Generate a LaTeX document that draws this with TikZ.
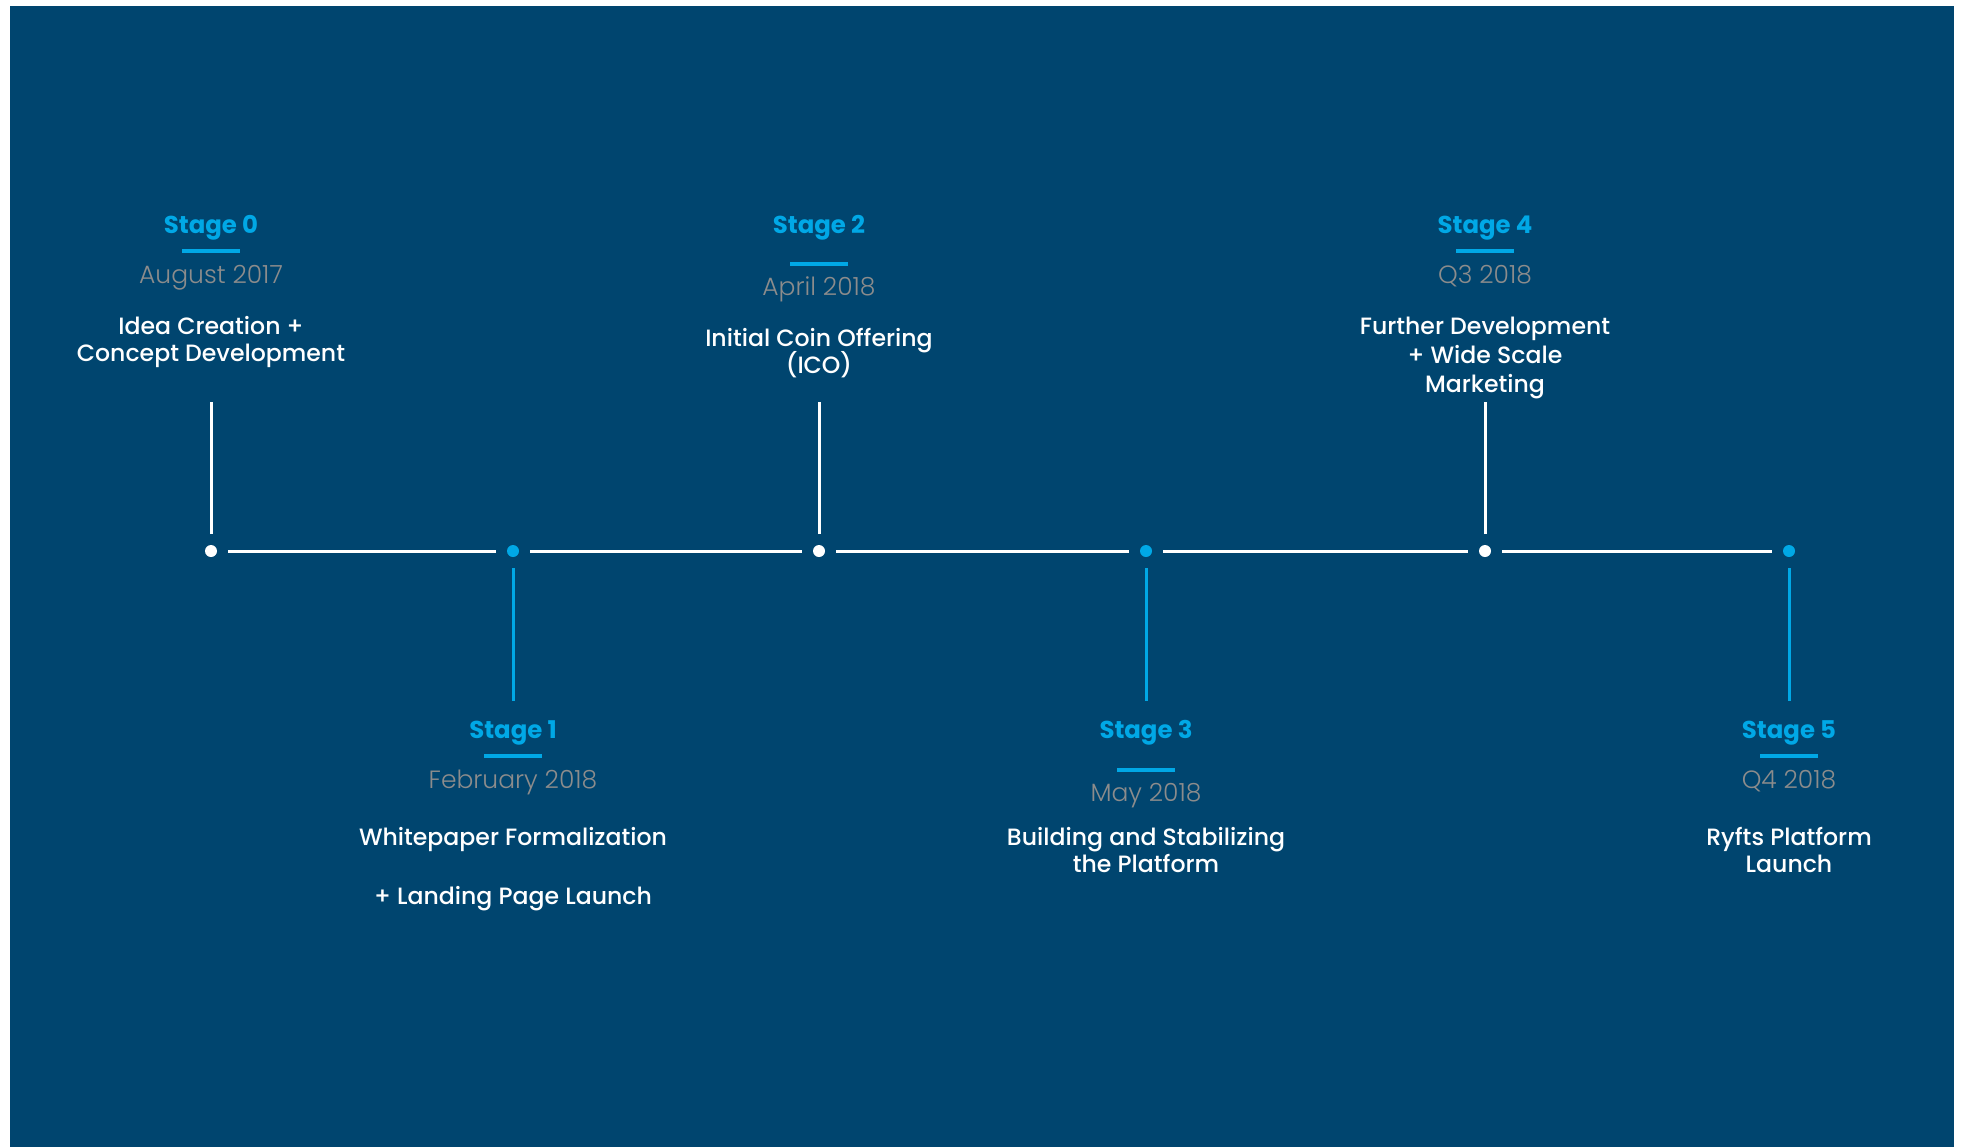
\documentclass[tikz,border=0pt]{standalone}
\usepackage{fontspec}
\setmainfont{Poppins}
\newfontfamily\taskfont{Poppins Medium}
\newfontfamily\datefont{Poppins Light}

\definecolor{navy}{HTML}{00456F}
\definecolor{stagecyan}{HTML}{00A8E6}
\definecolor{dategray}{HTML}{8C8C8C}

\tikzstyle{stage} = [text=stagecyan, font=\bfseries\fontsize{12.2}{14}\selectfont, anchor=base]
\tikzstyle{date} = [text=dategray, font=\datefont\fontsize{12.5}{14}\selectfont, anchor=base]
\tikzstyle{task} = [text=white, font=\taskfont\fontsize{11.8}{13.5}\selectfont, align=center, anchor=base]
\tikzstyle{bar} = [fill=stagecyan, minimum width=29pt, minimum height=1.75pt, inner sep=0pt]
\tikzstyle{wdot} = [circle, fill=white, minimum size=6pt, inner sep=0pt, outer sep=5.5pt]
\tikzstyle{cdot} = [circle, fill=stagecyan, minimum size=6pt, inner sep=0pt, outer sep=5.5pt]
\tikzstyle{wline} = [draw=white, line width=1.5pt]
\tikzstyle{cline} = [draw=stagecyan, line width=1.5pt]

\begin{document}
\begin{tikzpicture}[x=0.5pt, y=-0.5pt]
\useasboundingbox (0,0) rectangle (1961,1147);
\fill[white] (0,0) rectangle (1961,1147);
\fill[navy] (10,6) rectangle (1954,1147);

% timeline dots
\node[wdot] (d0) at (211,551) {};
\node[cdot] (d1) at (513,551) {};
\node[wdot] (d2) at (819,551) {};
\node[cdot] (d3) at (1146,551) {};
\node[wdot] (d4) at (1485,551) {};
\node[cdot] (d5) at (1789,551) {};

\draw[wline] (d0) -- (d1);
\draw[wline] (d1) -- (d2);
\draw[wline] (d2) -- (d3);
\draw[wline] (d3) -- (d4);
\draw[wline] (d4) -- (d5);

% stems
\coordinate (t0) at (211,402);
\coordinate (t1) at (513,701);
\coordinate (t2) at (819,402);
\coordinate (t3) at (1146,701);
\coordinate (t4) at (1485,402);
\coordinate (t5) at (1789,701);

\draw[wline] (d0) -- (t0);
\draw[cline] (d1) -- (t1);
\draw[wline] (d2) -- (t2);
\draw[cline] (d3) -- (t3);
\draw[wline] (d4) -- (t4);
\draw[cline] (d5) -- (t5);

% Stage 0 (task nodes sit on their last baseline)
\node[stage] (s0) at (211,233) {Stage 0};
\node[bar] (b0) at (211,251) {};
\node[date] (m0) at (211,283) {August 2017};
\node[task] (k0) at (211,361) {Idea Creation +\\Concept Development};

% Stage 1
\node[stage] (s1) at (513,738) {Stage 1};
\node[bar] (b1) at (513,756) {};
\node[date] (m1) at (513,788) {February 2018};
\node[task] (k1) at (513,904) {Whitepaper Formalization\\[16pt]+ Landing Page Launch};

% Stage 2
\node[stage] (s2) at (819,233) {Stage 2};
\node[bar] (b2) at (819,264) {};
\node[date] (m2) at (819,295) {April 2018};
\node[task] (k2) at (819,373) {Initial Coin Offering\\[-1.75pt](ICO)};

% Stage 3
\node[stage] (s3) at (1146,738) {Stage 3};
\node[bar] (b3) at (1146,770) {};
\node[date] (m3) at (1146,801) {May 2018};
\node[task] (k3) at (1146,872) {Building and Stabilizing\\the Platform};

% Stage 4
\node[stage] (s4) at (1485,233) {Stage 4};
\node[bar] (b4) at (1485,251) {};
\node[date] (m4) at (1485,283) {Q3 2018};
\node[task] (k4) at (1485,392) {Further Development\\[1pt]+ Wide Scale\\[1pt]Marketing};

% Stage 5
\node[stage] (s5) at (1789,738) {Stage 5};
\node[bar] (b5) at (1789,756) {};
\node[date] (m5) at (1789,788) {Q4 2018};
\node[task] (k5) at (1789,872) {Ryfts Platform\\Launch};
\end{tikzpicture}
\end{document}
